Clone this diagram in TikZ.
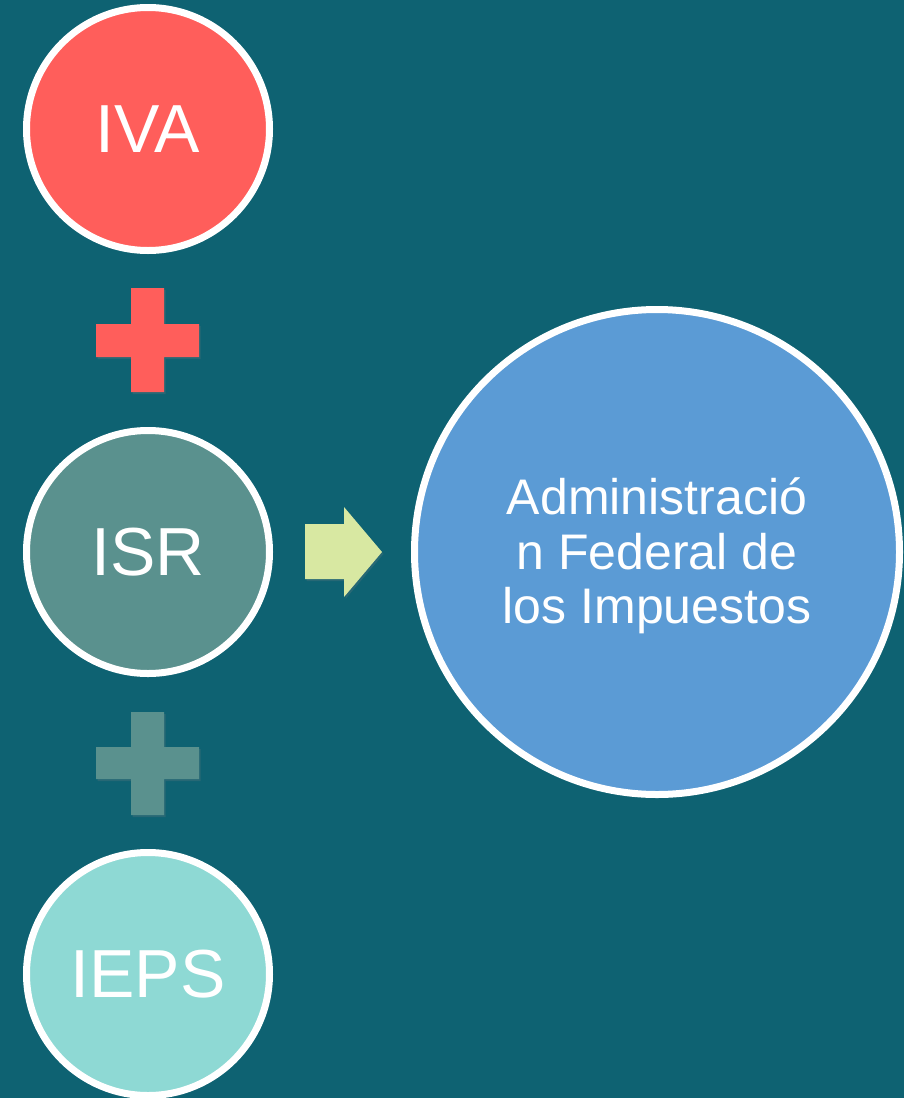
\documentclass[tikz,border=0pt]{standalone}
\usepackage{fontspec}
\setmainfont{Liberation Sans}
\usetikzlibrary{shadows}

\definecolor{bgteal}{HTML}{0E6272}
\definecolor{ivared}{HTML}{FF5E5B}
\definecolor{isrteal}{HTML}{5A918E}
\definecolor{iepsaqua}{HTML}{8ED9D4}
\definecolor{satblue}{HTML}{5B9BD5}
\definecolor{arrowlime}{HTML}{D8E8A2}

\begin{document}
\begin{tikzpicture}[x=1pt,y=-1pt,
    every node/.append style={text=white},
    soft/.style={drop shadow={opacity=0.22,shadow xshift=1.5pt,shadow yshift=-2pt}},
    tax/.style={circle,draw=white,line width=7pt,minimum size=243pt,inner sep=0pt,
        font=\fontsize{68}{80}\selectfont,soft}]
    \useasboundingbox[fill=bgteal] (0,0) rectangle (904,1098);

    \node[tax,fill=ivared] (iva) at (148,129) {IVA};
    \node[tax,fill=isrteal] (isr) at (148,552) {ISR};
    \node[tax,fill=iepsaqua] (ieps) at (148,974) {IEPS};
    \node[tax,fill=satblue,minimum size=485pt] (sat) at (657,552) {};
    \node[align=center,font=\fontsize{50}{54.5}\selectfont] (sattext) at (657,556)
        {Administració\\n Federal de\\los Impuestos};

    % plus signs
    \fill[ivared,soft] (131,288) -- (164,288) -- (164,324) -- (199,324) -- (199,357)
        -- (164,357) -- (164,392) -- (131,392) -- (131,357) -- (96,357) -- (96,324)
        -- (131,324) -- cycle;
    \fill[isrteal,soft] (131,712) -- (164,712) -- (164,747) -- (199,747) -- (199,779)
        -- (164,779) -- (164,815) -- (131,815) -- (131,779) -- (96,779) -- (96,747)
        -- (131,747) -- cycle;

    % arrow
    \fill[arrowlime,soft] (305,524) -- (344,524) -- (344,507) -- (382,552)
        -- (344,597) -- (344,579) -- (305,579) -- cycle;
\end{tikzpicture}
\end{document}
